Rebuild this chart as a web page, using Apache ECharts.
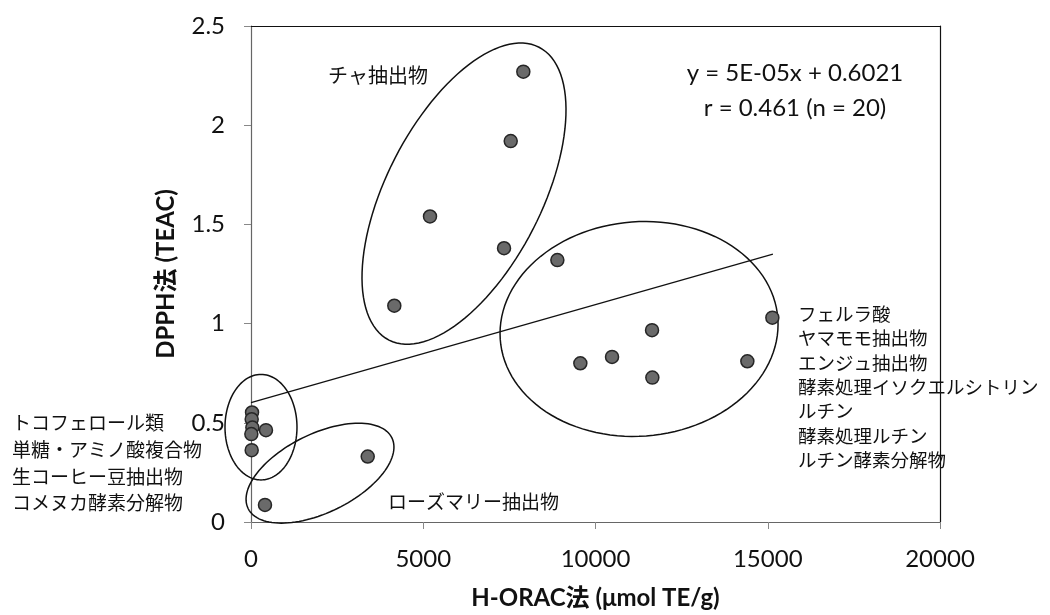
<!DOCTYPE html>
<html>
<head>
<meta charset="utf-8">
<script src="https://cdn.jsdelivr.net/npm/echarts@6/dist/echarts.min.js"></script>
<style>
html,body{margin:0;padding:0;background:#fff;}
#chart{width:1050px;height:615px;}
</style>
</head>
<body>
<div id="chart"></div>
<script>
// ---- data ----
const teaX = [7905, 7539, 5196, 7345, 4160];
const teaY = [2.27, 1.92, 1.54, 1.38, 1.09];
const flavX = [8893, 15134, 11641, 10480, 9560, 14408, 11650];
const flavY = [1.32, 1.03, 0.967, 0.832, 0.80, 0.81, 0.728];
const roseX = [3388, 406];
const roseY = [0.33, 0.086];
const lowX = [30, 20, 40, 10, 435, 20];
const lowY = [0.552, 0.518, 0.476, 0.443, 0.463, 0.362];
const trendX = [0, 15150];
const trendY = [0.602, 1.35];
// ellipses: centre, end of first axis, end of conjugate axis (data units)
const ellipseTea = [6183, 1.655, 8361, 2.393, 8189, 1.477];
const ellipseFlav = [11264, 0.973, 15299, 0.996, 11264, 1.514];
const ellipseLow = [290, 0.478, 1335, 0.478, 290, 0.744];
const ellipseRose = [2003, 0.246, 4090, 0.424, 2505, 0.068];
const xTicks = [0, 5000, 10000, 15000, 20000];
const yTicks = [0, 0.5, 1, 1.5, 2, 2.5];
const eqText = ['y = 5E-05x + 0.6021', 'r = 0.461 (n = 20)'];
const teaLabel = 'チャ抽出物';
const roseLabel = 'ローズマリー抽出物';
const flavLabels = ['フェルラ酸', 'ヤマモモ抽出物', 'エンジュ抽出物', '酵素処理イソクエルシトリン', 'ルチン', '酵素処理ルチン', 'ルチン酵素分解物'];
const lowLabels = ['トコフェロール類', '単糖・アミノ酸複合物', '生コーヒー豆抽出物', 'コメヌカ酵素分解物'];
const xName = 'H-ORAC法 (μmol TE/g)';
const yName = 'DPPH法 (TEAC)';

// ---- build ----
const allX = teaX.concat(flavX, roseX, lowX);
const allY = teaY.concat(flavY, roseY, lowY);
const points = allX.map((x, i) => [x, allY[i]]);
const trend = trendX.map((x, i) => [x, trendY[i]]);
const ellipses = [ellipseTea, ellipseFlav, ellipseLow, ellipseRose];

const latin = 'Lato, "Noto Sans CJK JP", sans-serif';
const cjk = '"Noto Sans CJK JP", sans-serif';

const chart = echarts.init(document.getElementById('chart'), null, {renderer: 'canvas'});
chart.setOption({
  animation: false,
  backgroundColor: '#fff',
  grid: {left: 251, right: 110, top: 26, bottom: 92, show: false},
  xAxis: [{
    type: 'value', min: xTicks[0], max: xTicks[xTicks.length - 1], interval: xTicks[1] - xTicks[0],
    splitLine: {show: false},
    axisLine: {show: true, onZero: false, lineStyle: {color: '#666', width: 1.2}},
    axisTick: {show: true, inside: false, length: 7, lineStyle: {color: '#888'}},
    axisLabel: {color: '#111', fontFamily: latin, fontSize: 24, margin: 25, formatter: v => String(v)},
    name: xName, nameLocation: 'middle', nameGap: 64,
    nameTextStyle: {color: '#111', fontFamily: latin, fontSize: 24, fontWeight: 'bold'}
  }, {
    type: 'value', position: 'top', min: xTicks[0], max: xTicks[xTicks.length - 1],
    splitLine: {show: false}, axisTick: {show: false}, axisLabel: {show: false},
    axisLine: {show: true, onZero: false, lineStyle: {color: '#111', width: 1.2}}
  }],
  yAxis: [{
    type: 'value', min: yTicks[0], max: yTicks[yTicks.length - 1], interval: yTicks[1] - yTicks[0],
    splitLine: {show: false},
    axisLine: {show: true, onZero: false, lineStyle: {color: '#666', width: 1.2}},
    axisTick: {show: true, inside: false, length: 7, lineStyle: {color: '#888'}},
    axisLabel: {color: '#111', fontFamily: latin, fontSize: 24, margin: 26, formatter: v => String(v)},
    name: yName, nameLocation: 'middle', nameGap: 73, nameRotate: 90,
    nameTextStyle: {color: '#111', fontFamily: latin, fontSize: 24, fontWeight: 'bold'}
  }, {
    type: 'value', position: 'right', min: yTicks[0], max: yTicks[yTicks.length - 1],
    splitLine: {show: false}, axisTick: {show: false}, axisLabel: {show: false},
    axisLine: {show: true, onZero: false, lineStyle: {color: '#111', width: 1.2}}
  }],
  series: [{
    type: 'custom',
    clip: false,
    data: ellipses,
    encode: {x: [0, 2, 4], y: [1, 3, 5]},
    renderItem: function (params, api) {
      const c = api.coord([api.value(0), api.value(1)]);
      const a = api.coord([api.value(2), api.value(3)]);
      const b = api.coord([api.value(4), api.value(5)]);
      const ax = a[0] - c[0], ay = a[1] - c[1];
      const bx = b[0] - c[0], by = b[1] - c[1];
      const pts = [];
      const n = 120;
      for (let k = 0; k < n; k++) {
        const t = 2 * Math.PI * k / n;
        pts.push([c[0] + ax * Math.cos(t) + bx * Math.sin(t), c[1] + ay * Math.cos(t) + by * Math.sin(t)]);
      }
      return {type: 'polygon', shape: {points: pts}, style: {fill: 'none', stroke: '#111', lineWidth: 1.5}};
    },
    z: 2
  }, {
    type: 'line',
    data: trend,
    symbol: 'none',
    lineStyle: {color: '#111', width: 1.2},
    z: 3
  }, {
    type: 'scatter',
    data: points,
    symbol: 'circle',
    symbolSize: 13,
    itemStyle: {color: '#6a6a6a', borderColor: '#262626', borderWidth: 1.5, opacity: 1},
    z: 4
  }],
  graphic: [
    {type: 'text', x: 795, y: 90.5, z: 10,
     style: {text: eqText.join('\n'), align: 'center', verticalAlign: 'middle', fontFamily: latin, fontSize: 24, lineHeight: 35, fill: '#111'}},
    {type: 'text', x: 328, y: 75, z: 10,
     style: {text: teaLabel, verticalAlign: 'middle', fontFamily: cjk, fontSize: 20, fill: '#111'}},
    {type: 'text', x: 388, y: 502, z: 10,
     style: {text: roseLabel, verticalAlign: 'middle', fontFamily: cjk, fontSize: 19, fill: '#111'}},
    {type: 'text', x: 798, y: 387, z: 10,
     style: {text: flavLabels.join('\n'), verticalAlign: 'middle', fontFamily: cjk, fontSize: 18.5, lineHeight: 24.4, fill: '#111'}},
    {type: 'text', x: 12, y: 463, z: 10,
     style: {text: lowLabels.join('\n'), verticalAlign: 'middle', fontFamily: cjk, fontSize: 19, lineHeight: 26.7, fill: '#111'}}
  ]
});
</script>
</body>
</html>
